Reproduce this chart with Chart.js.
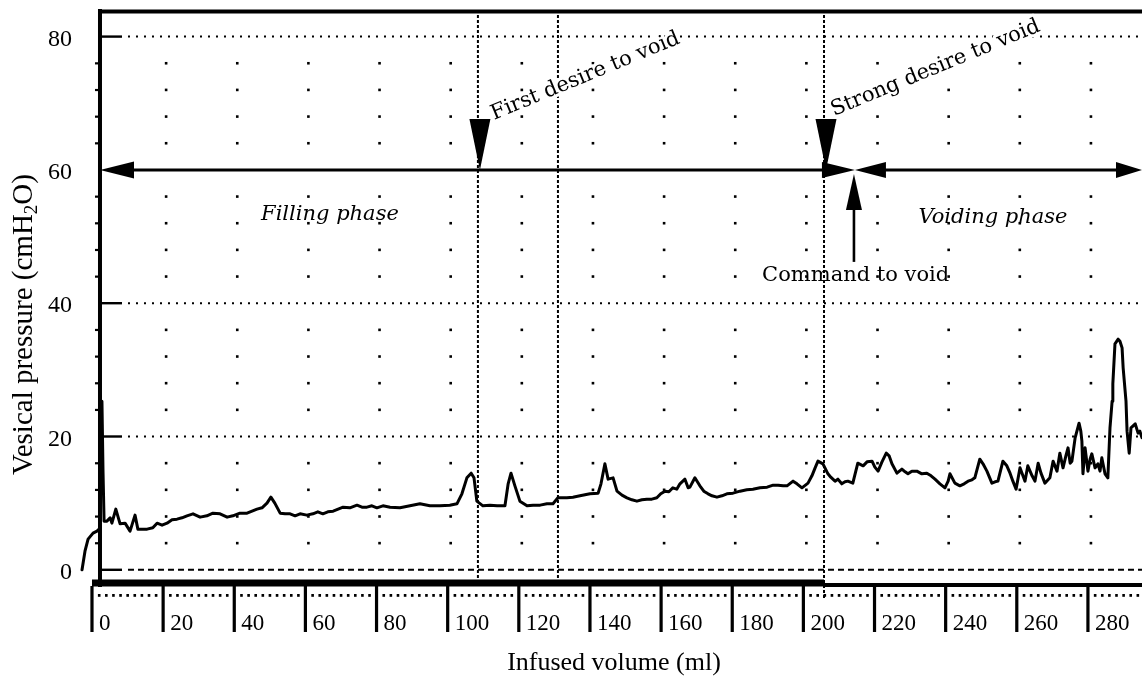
<!DOCTYPE html>
<html>
<head>
<meta charset="utf-8">
<script src="https://cdn.jsdelivr.net/npm/chart.js@4"></script>
<style>
  html, body { margin: 0; padding: 0; background: #fff; }
  #wrap { width: 1142px; height: 676px; position: relative; }
</style>
</head>
<body>
<div id="wrap"><canvas id="c"></canvas></div>
<script>
// ---------- data ----------
const volumeMl = [
  -2.8, -1.97, -1.1, 0.3, 1.4, 2.0, 2.25, 2.5, 2.8, 3.1, 3.4, 4.2, 5.1, 5.6, 6.7, 7.9, 9.3, 10.7, 12.1, 12.9,
  14.3, 15.5, 17.1, 18.3, 19.7, 21.1, 22.5, 23.9, 25.3, 26.7, 28.4, 30.4, 32.3, 34.0, 36.0, 38.0, 39.6, 41.6, 43.6, 45.0,
  46.4, 47.8, 49.2, 50.3, 51.4, 52.9, 54.3, 55.7, 57.1, 58.5, 60.4, 62.1, 63.5, 64.9, 66.3, 67.8, 69.2, 70.6, 72.5, 74.5,
  75.9, 77.3, 78.7, 80.1, 81.8, 83.8, 86.6, 89.4, 92.2, 95.0, 97.8, 100.6, 102.6, 104.0, 105.4, 106.6, 107.4, 108.2, 109.9, 111.9,
  113.9, 116.1, 117.0, 117.8, 118.9, 120.3, 122.3, 124.0, 126.0, 127.9, 129.6, 131.0, 133.5, 135.2, 137.2, 140.0, 142.3, 143.1, 144.2, 145.1,
  146.5, 147.6, 149.0, 150.4, 151.8, 153.2, 154.6, 156.0, 157.4, 158.8, 159.9, 161.1, 162.2, 163.3, 164.4, 165.3, 166.7, 167.6, 168.1, 169.5,
  170.9, 172.0, 173.2, 174.3, 175.7, 177.1, 178.5, 180.2, 182.2, 184.1, 185.8, 187.8, 189.8, 191.5, 192.9, 194.3, 195.4, 197.1, 198.2, 199.6,
  201.3, 202.4, 203.3, 204.1, 205.5, 206.9, 207.7, 208.9, 209.7, 210.8, 211.7, 212.5, 213.9, 215.3, 216.8, 217.9, 219.3, 220.1, 221.0, 222.1,
  223.3, 224.1, 224.9, 226.3, 227.7, 228.6, 229.4, 230.5, 231.9, 233.3, 234.7, 235.9, 237.0, 238.4, 239.8, 240.7, 241.2, 242.6, 244.0, 245.2,
  246.3, 247.4, 248.2, 249.6, 250.5, 251.6, 253.0, 253.9, 254.7, 256.1, 257.2, 258.1, 258.9, 259.8, 260.9, 262.3, 263.1, 264.3, 265.1, 266.0,
  266.8, 267.9, 269.3, 270.2, 271.3, 272.1, 273.0, 273.8, 274.4, 275.0, 275.5, 276.4, 277.5, 278.0, 278.3, 278.6, 279.2, 280.0, 280.6, 281.1,
  282.0, 282.8, 283.4, 283.9, 284.8, 285.6, 286.2, 286.8, 287.0, 287.6, 288.5, 289.0, 289.6, 289.9, 290.7, 291.0, 291.6, 292.1, 292.7, 293.3,
  294.1, 294.6, 295.2
];
const pressureCmH2O = [
  0.0, 2.8, 4.6, 5.5, 5.8, 6.1, 26.1, 17.8, 25.3, 14.8, 7.3, 7.3, 7.8, 7.0, 9.1, 6.9, 7.0, 5.8, 8.2, 6.1,
  6.1, 6.1, 6.3, 7.0, 6.7, 7.0, 7.5, 7.6, 7.8, 8.1, 8.4, 7.9, 8.1, 8.5, 8.4, 7.9, 8.1, 8.5, 8.5, 8.8,
  9.1, 9.3, 10.0, 10.9, 10.0, 8.5, 8.4, 8.4, 8.1, 8.4, 8.2, 8.4, 8.7, 8.4, 8.7, 8.8, 9.1, 9.4, 9.3, 9.7,
  9.4, 9.4, 9.6, 9.3, 9.6, 9.4, 9.3, 9.6, 9.9, 9.6, 9.6, 9.7, 9.9, 11.4, 13.8, 14.5, 13.8, 10.3, 9.6, 9.7,
  9.6, 9.6, 12.9, 14.5, 12.6, 10.3, 9.6, 9.7, 9.7, 9.9, 9.9, 10.8, 10.8, 10.9, 11.1, 11.4, 11.5, 12.9, 15.9, 13.6,
  13.8, 11.8, 11.2, 10.8, 10.5, 10.3, 10.5, 10.6, 10.6, 10.8, 11.4, 11.8, 11.7, 12.3, 12.1, 12.9, 13.6, 12.3, 12.4, 13.8,
  12.6, 11.8, 11.4, 11.1, 10.9, 11.1, 11.4, 11.5, 11.8, 12.0, 12.1, 12.3, 12.4, 12.7, 12.7, 12.6, 12.6, 13.3, 12.9, 12.3,
  13.0, 14.1, 15.3, 16.3, 15.9, 14.4, 13.9, 13.3, 13.6, 12.9, 13.2, 13.3, 13.0, 16.0, 15.6, 16.2, 16.3, 15.4, 14.8, 16.2,
  17.5, 17.1, 15.9, 14.5, 15.1, 14.7, 14.4, 14.8, 14.8, 14.4, 14.5, 14.1, 13.6, 12.9, 12.3, 13.3, 14.4, 13.0, 12.6, 12.9,
  13.3, 13.5, 13.8, 16.6, 15.9, 14.8, 13.0, 13.2, 13.3, 16.3, 15.6, 14.5, 13.3, 12.1, 15.3, 13.3, 15.6, 14.1, 13.3, 16.0,
  14.5, 13.0, 13.8, 16.3, 14.8, 17.5, 15.3, 17.1, 18.3, 16.0, 16.3, 19.8, 22.0, 20.8, 19.3, 14.4, 18.3, 14.8, 16.6, 17.4,
  15.3, 15.9, 14.8, 16.8, 14.4, 13.8, 21.3, 25.3, 27.9, 33.9, 34.6, 34.3, 33.3, 30.3, 25.3, 20.8, 17.5, 21.3, 21.6, 21.9,
  20.5, 20.8, 19.8
];
const xTickLabels = [0, 20, 40, 60, 80, 100, 120, 140, 160, 180, 200, 220, 240, 260, 280];
const yTickLabels = [0, 20, 40, 60, 80];
// volumes of the marked events: first desire, intermediate marker, strong desire
const eventVolumes = [108.5, 131.0, 205.8];
// filling phase start, command to void, end of record
const phaseVolumes = [2.25, 214.5, 295.2];
const phasePressure = 60;

const xTitle = 'Infused volume (ml)';
const yTitleParts = ['Vesical pressure (cmH', '2', 'O)'];
const txtFirst = 'First desire to void';
const txtStrong = 'Strong desire to void';
const txtFilling = 'Filling phase';
const txtVoiding = 'Voiding phase';
const txtCommand = 'Command to void';

// ---------- drawing ----------
const SERIF = '"Liberation Serif", "Times New Roman", serif';
const ANN = '"DejaVu Serif", serif';

function tri(ctx, pts) {
  ctx.beginPath();
  ctx.moveTo(pts[0][0], pts[0][1]);
  ctx.lineTo(pts[1][0], pts[1][1]);
  ctx.lineTo(pts[2][0], pts[2][1]);
  ctx.closePath();
  ctx.fill();
}
function haloText(ctx, t, x, y) {
  ctx.save();
  ctx.strokeStyle = '#fff';
  ctx.lineWidth = 6;
  ctx.lineJoin = 'round';
  ctx.strokeText(t, x, y);
  ctx.restore();
  ctx.fillText(t, x, y);
}

const paper = {
  id: 'paper',
  beforeDatasetsDraw(chart) {
    const ctx = chart.ctx, ca = chart.chartArea;
    const xs = chart.scales.x, ys = chart.scales.y;
    const X = v => xs.getPixelForValue(v), Y = v => ys.getPixelForValue(v);
    const frameL = X(phaseVolumes[0]);
    ctx.save();
    ctx.fillStyle = '#000';
    ctx.strokeStyle = '#000';
    // horizontal gridlines (dotted), except the phase arrow level
    yTickLabels.forEach(v => {
      if (v === phasePressure) return;
      const y = Y(v);
      ctx.fillRect(frameL, y - 1.2, 22, 2.4);
      ctx.save();
      ctx.lineWidth = 2;
      ctx.setLineDash(v === 0 ? [6, 4] : [2, 6]);
      ctx.beginPath();
      ctx.moveTo(frameL + 28, y);
      ctx.lineTo(ca.right, y);
      ctx.stroke();
      ctx.restore();
    });
    // grid dots + frame minor ticks every 4 cmH2O
    for (let v = 4; v < 80; v += 4) {
      if (v % 20 === 0) continue;
      const y = Y(v);
      ctx.fillRect(frameL - 5, y - 1, 4, 2.2);
      xTickLabels.forEach(xv => {
        if (xv === 0) return;
        ctx.fillRect(X(xv) + 3 - 1.3, y - 1.3, 2.6, 2.6);
      });
    }
    // vertical event lines
    ctx.save();
    ctx.lineWidth = 2;
    ctx.setLineDash([3, 2]);
    eventVolumes.forEach((ev, i) => {
      const x = X(ev);
      ctx.beginPath();
      ctx.moveTo(x, ca.top);
      ctx.lineTo(x, ca.bottom + (i === 2 ? 16 : 0));
      ctx.stroke();
    });
    ctx.restore();
    ctx.restore();
  },
  afterDatasetsDraw(chart) {
    const ctx = chart.ctx, ca = chart.chartArea;
    const xs = chart.scales.x, ys = chart.scales.y;
    const X = v => xs.getPixelForValue(v), Y = v => ys.getPixelForValue(v);
    const frameL = X(phaseVolumes[0]);
    ctx.save();
    ctx.fillStyle = '#000';
    ctx.strokeStyle = '#000';

    // frame
    ctx.lineWidth = 4;
    ctx.beginPath();
    ctx.moveTo(frameL, ca.top - 1);
    ctx.lineTo(frameL, ca.bottom + 4);
    ctx.stroke();
    ctx.beginPath();
    ctx.moveTo(frameL, ca.top + 1.5);
    ctx.lineTo(ca.right, ca.top + 1.5);
    ctx.stroke();
    // bottom thick line
    ctx.fillRect(X(0), ca.bottom - 3.5, X(eventVolumes[2]) - X(0), 7);
    ctx.fillRect(X(eventVolumes[2]), ca.bottom, ca.right - X(eventVolumes[2]), 4);

    // ruler: minor dots every 2 ml, major bars every 20 ml
    for (let v = 0; v <= 294; v += 2) {
      if (v % 20 === 0) continue;
      ctx.fillRect(X(v) - 1.2, ca.bottom + 11, 2.6, 2.8);
    }
    ctx.font = '23px ' + SERIF;
    ctx.textAlign = 'left';
    ctx.textBaseline = 'middle';
    xTickLabels.forEach(v => {
      const x = X(v);
      ctx.fillRect(x - 1.6, ca.bottom + 3, 3.2, 46);
      ctx.fillText(String(v), x + 7, ca.bottom + 41);
    });

    // y tick labels
    ctx.font = '24px ' + SERIF;
    ctx.textAlign = 'right';
    yTickLabels.forEach(v => {
      ctx.fillText(String(v), ca.left - 8, Y(v) + 3);
    });

    // axis titles
    ctx.font = '26px ' + SERIF;
    ctx.textAlign = 'center';
    ctx.fillText(xTitle, (ca.left + ca.right) / 2 + 3, ca.bottom + 80);

    ctx.save();
    ctx.translate(23, Y(36.8));
    ctx.rotate(-Math.PI / 2);
    ctx.textBaseline = 'alphabetic';
    ctx.textAlign = 'left';
    const big = '29px ' + SERIF, small = '19px ' + SERIF;
    ctx.font = big; const w1 = ctx.measureText(yTitleParts[0]).width;
    ctx.font = small; const w2 = ctx.measureText(yTitleParts[1]).width;
    ctx.font = big; const w3 = ctx.measureText(yTitleParts[2]).width;
    let sx = -(w1 + w2 + w3) / 2;
    ctx.font = big; ctx.fillText(yTitleParts[0], sx, 9); sx += w1;
    ctx.font = small; ctx.fillText(yTitleParts[1], sx, 14); sx += w2;
    ctx.font = big; ctx.fillText(yTitleParts[2], sx, 9);
    ctx.restore();

    // phase arrows at 60 cmH2O
    const yA = Y(phasePressure);
    const p0 = X(phaseVolumes[0]), p1 = X(phaseVolumes[1]), p2 = X(phaseVolumes[2]);
    ctx.lineWidth = 3;
    ctx.beginPath();
    ctx.moveTo(p0 + 20, yA); ctx.lineTo(p1 - 20, yA);
    ctx.moveTo(p1 + 20, yA); ctx.lineTo(p2 - 15, yA);
    ctx.stroke();
    tri(ctx, [[p0, yA], [p0 + 34, yA - 8.5], [p0 + 34, yA + 8.5]]);
    tri(ctx, [[p1, yA], [p1 - 33, yA - 8], [p1 - 33, yA + 8]]);
    tri(ctx, [[p1, yA], [p1 + 31, yA - 8], [p1 + 31, yA + 8]]);
    tri(ctx, [[p2, yA], [p2 - 26, yA - 8], [p2 - 26, yA + 8]]);

    // down arrows for desires
    [eventVolumes[0], eventVolumes[2]].forEach(ev => {
      const x = X(ev) + 2;
      tri(ctx, [[x, yA], [x - 10.5, yA - 51], [x + 10.5, yA - 51]]);
    });

    // up arrow: command to void
    const xc = p1 - 1;
    tri(ctx, [[xc, yA + 4], [xc - 8, yA + 40], [xc + 8, yA + 40]]);
    ctx.lineWidth = 2.6;
    ctx.beginPath();
    ctx.moveTo(xc, yA + 36); ctx.lineTo(xc, yA + 92);
    ctx.stroke();

    // annotation texts
    ctx.font = '21px ' + ANN;
    ctx.textAlign = 'left';
    ctx.textBaseline = 'alphabetic';
    const ang = -22.4 * Math.PI / 180;
    ctx.save();
    ctx.translate(X(eventVolumes[0]) + 16, yA - 50);
    ctx.rotate(ang);
    haloText(ctx, txtFirst, 0, 0);
    ctx.restore();
    ctx.save();
    ctx.translate(X(eventVolumes[2]) + 10, yA - 54);
    ctx.rotate(ang);
    haloText(ctx, txtStrong, 0, 0);
    ctx.restore();

    ctx.textBaseline = 'middle';
    ctx.fillText(txtCommand, X(188.4), Y(44.1));
    ctx.font = 'italic 21px ' + ANN;
    ctx.textAlign = 'center';
    ctx.fillText(txtFilling, X(66.9), Y(53.3));
    ctx.fillText(txtVoiding, X(253.3), Y(52.8));
    ctx.restore();
  }
};

new Chart(document.getElementById('c'), {
  type: 'line',
  data: {
    datasets: [{
      data: volumeMl.map((v, i) => ({ x: v, y: pressureCmH2O[i] })),
      borderColor: '#000',
      borderWidth: 3,
      borderJoinStyle: 'round',
      borderCapStyle: 'round',
      pointRadius: 0,
      tension: 0,
      fill: false,
      clip: false
    }]
  },
  options: {
    responsive: true,
    maintainAspectRatio: false,
    animation: false,
    layout: { padding: { left: 80, right: 0, top: 10, bottom: 93 } },
    plugins: { legend: { display: false }, tooltip: { enabled: false } },
    scales: {
      x: { type: 'linear', min: -3.37, max: 295.2, display: false },
      y: { type: 'linear', min: -1.98, max: 83.99, display: false }
    }
  },
  plugins: [paper]
});
</script>
</body>
</html>
